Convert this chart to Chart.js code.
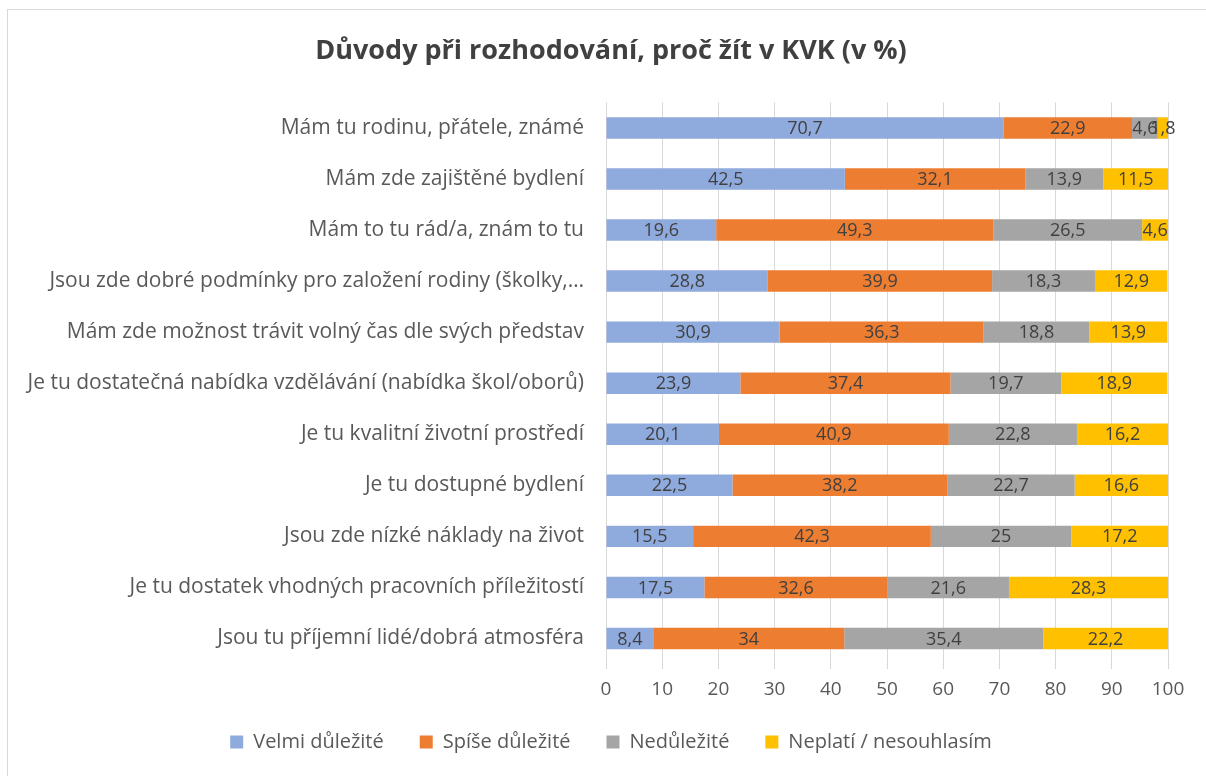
<!DOCTYPE html>
<html lang="cs">
<head>
<meta charset="UTF-8">
<title>Důvody při rozhodování</title>
<script src="https://cdn.jsdelivr.net/npm/chart.js"></script>
<style>
    html, body { margin: 0; padding: 0; background: #fff; overflow: hidden; }
    .frame { position: absolute; left: 7px; top: 9px; width: 1220px; height: 790px; border: 1px solid #d9d9d9; }
    .wrap { position: absolute; left: 0; top: 0; width: 1206px; height: 776px; }
</style>
</head>
<body>
<div class="frame"></div>
<div class="wrap"><canvas id="chart"></canvas></div>
<script>
const categories = [
    'Mám tu rodinu, přátele, známé',
    'Mám zde zajištěné bydlení',
    'Mám to tu rád/a, znám to tu',
    'Jsou zde dobré podmínky pro založení rodiny (školky,…',
    'Mám zde možnost trávit volný čas dle svých představ',
    'Je tu dostatečná nabídka vzdělávání (nabídka škol/oborů)',
    'Je tu kvalitní životní prostředí',
    'Je tu dostupné bydlení',
    'Jsou zde nízké náklady na život',
    'Je tu dostatek vhodných pracovních příležitostí',
    'Jsou tu příjemní lidé/dobrá atmosféra'
];
const velmiDulezite  = [70.7, 42.5, 19.6, 28.8, 30.9, 23.9, 20.1, 22.5, 15.5, 17.5, 8.4];
const spiseDulezite  = [22.9, 32.1, 49.3, 39.9, 36.3, 37.4, 40.9, 38.2, 42.3, 32.6, 34];
const nedulezite     = [4.6, 13.9, 26.5, 18.3, 18.8, 19.7, 22.8, 22.7, 25, 21.6, 35.4];
const neplati        = [1.8, 11.5, 4.6, 12.9, 13.9, 18.9, 16.2, 16.6, 17.2, 28.3, 22.2];
const seriesNames = ['Velmi důležité', 'Spíše důležité', 'Nedůležité', 'Neplatí / nesouhlasím'];
const seriesColors = ['#8faadc', '#ed7d31', '#a5a5a5', '#ffc000'];
const xTicks = [0, 10, 20, 30, 40, 50, 60, 70, 80, 90, 100];

const FONT = "'Open Sans', sans-serif";

// value labels in the middle of each segment
const segmentLabels = {
    id: 'segmentLabels',
    afterLayout(chart) {
        // let the long category names run past the left padding without being clipped
        chart.scales.y.left = 0;
    },
    afterDatasetsDraw(chart) {
        const ctx = chart.ctx;
        ctx.save();
        ctx.font = '18px ' + FONT;
        ctx.fillStyle = '#404040';
        ctx.textAlign = 'center';
        ctx.textBaseline = 'middle';
        chart.data.datasets.forEach((ds, i) => {
            chart.getDatasetMeta(i).data.forEach((bar, j) => {
                const v = ds.data[j];
                const cx = (bar.x + bar.base) / 2;
                ctx.fillText(String(v).replace('.', ','), cx, bar.y + 1);
            });
        });
        ctx.restore();
    }
};

const datasets = [velmiDulezite, spiseDulezite, nedulezite, neplati].map((d, i) => ({
    label: seriesNames[i],
    data: d,
    backgroundColor: seriesColors[i],
    borderWidth: 0,
    categoryPercentage: 0.84,
    barPercentage: 0.5
}));

new Chart(document.getElementById('chart'), {
    type: 'bar',
    data: { labels: categories, datasets: datasets },
    plugins: [segmentLabels],
    options: {
        indexAxis: 'y',
        responsive: true,
        maintainAspectRatio: false,
        animation: false,
        layout: { padding: { left: 54, right: 38, top: 20, bottom: 14 } },
        plugins: {
            title: {
                display: true,
                text: 'Důvody při rozhodování, proč žít v KVK (v %)',
                color: '#404040',
                font: { family: FONT, size: 27, weight: 'bold' },
                padding: { top: 15, bottom: 35 }
            },
            legend: {
                position: 'bottom',
                labels: {
                    color: '#595959',
                    font: { family: FONT, size: 20 },
                    boxWidth: 13,
                    boxHeight: 13,
                    padding: 36
                }
            },
            tooltip: { enabled: false }
        },
        scales: {
            x: {
                stacked: true,
                min: 0,
                max: 100,
                afterBuildTicks: s => { s.ticks = xTicks.map(v => ({ value: v })); },
                grid: { color: '#d9d9d9', lineWidth: 1, drawTicks: true, tickLength: 5 },
                border: { display: false },
                ticks: { color: '#595959', font: { family: FONT, size: 19 }, padding: 9 },
                afterFit: s => { s.height = 32; }
            },
            y: {
                stacked: true,
                grid: { display: false, drawTicks: false },
                border: { display: false },
                ticks: { color: '#595959', font: { family: FONT, size: 21 }, padding: 22, autoSkip: false },
                afterFit: s => { s.width = 552; }
            }
        }
    }
});
</script>
</body>
</html>
